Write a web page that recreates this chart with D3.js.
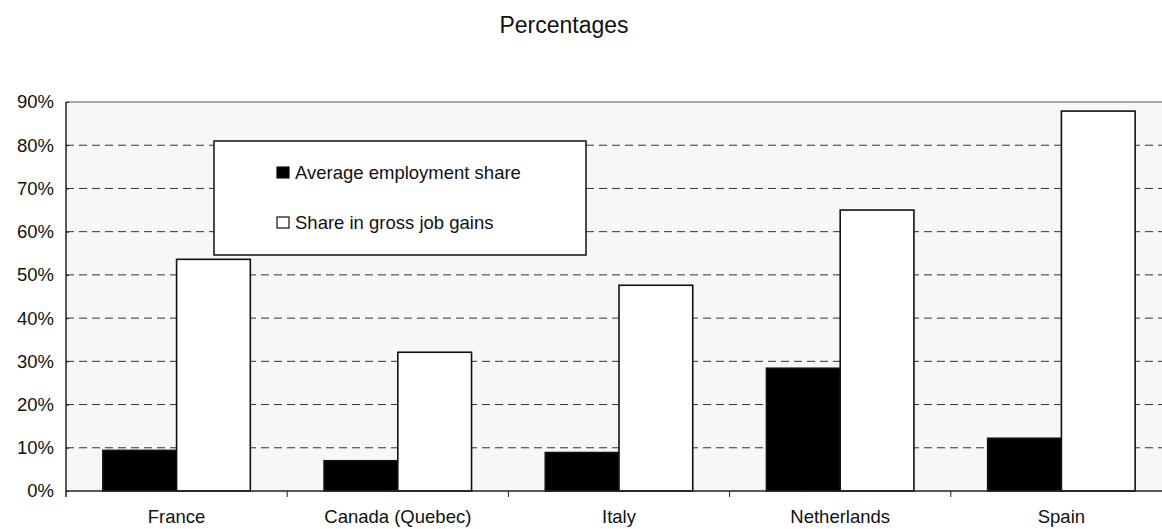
<!DOCTYPE html>
<html>
<head>
<meta charset="utf-8">
<script src="https://cdn.jsdelivr.net/npm/d3@7"></script>
<style>
  body { margin: 0; background: #fff; }
  svg { display: block; font-family: "Liberation Sans", Arial, sans-serif; }
</style>
</head>
<body>
<svg id="chart" width="1162" height="529"></svg>
<script>
const categories = ["France", "Canada (Quebec)", "Italy", "Netherlands", "Spain"];
const seriesNames = ["Average employment share", "Share in gross job gains"];
const employmentShare = [9.4, 7.0, 8.9, 28.4, 12.2];
const jobGainsShare = [53.6, 32.1, 47.6, 65.0, 87.9];
const yTicks = [0, 10, 20, 30, 40, 50, 60, 70, 80, 90];

const svg = d3.select('#chart');

const plotLeft = 66, plotRight = 1172, plotTop = 102, plotBottom = 491;
const labelSize = 18.5;

const x = d3.scaleBand()
  .domain(categories)
  .range([plotLeft, plotRight]);

const x1 = d3.scaleBand()
  .domain(seriesNames)
  .range([0, x.bandwidth()])
  .paddingOuter(0.5);

const y = d3.scaleLinear()
  .domain([0, 90])
  .range([plotBottom, plotTop]);

const fills = ['#000', '#fff'];

// title
svg.append('text')
  .attr('x', 564)
  .attr('y', 33)
  .attr('text-anchor', 'middle')
  .attr('font-size', 23)
  .attr('fill', '#111')
  .text('Percentages');

// plot background
svg.append('rect')
  .attr('x', plotLeft)
  .attr('y', plotTop)
  .attr('width', plotRight - plotLeft)
  .attr('height', plotBottom - plotTop)
  .attr('fill', '#f7f7f7');

// dashed grid
svg.append('g')
  .selectAll('line')
  .data(yTicks.filter(t => t > 0 && t < 90))
  .enter().append('line')
  .attr('x1', plotLeft)
  .attr('x2', plotRight)
  .attr('y1', d => y(d))
  .attr('y2', d => y(d))
  .attr('stroke', '#333')
  .attr('stroke-width', 1)
  .attr('stroke-dasharray', '8,5');

svg.append('line')
  .attr('x1', plotLeft).attr('x2', plotRight)
  .attr('y1', plotTop).attr('y2', plotTop)
  .attr('stroke', '#8a8a8a')
  .attr('stroke-width', 1.5);

// bars
const rows = categories.map((c, i) => ({
  cat: c,
  vals: [employmentShare[i], jobGainsShare[i]]
}));

const groups = svg.append('g')
  .selectAll('g')
  .data(rows)
  .enter().append('g')
  .attr('transform', d => `translate(${x(d.cat)},0)`);

groups.selectAll('rect')
  .data(d => d.vals.map((v, k) => ({ name: seriesNames[k], v: v, k: k })))
  .enter().append('rect')
  .attr('x', d => x1(d.name))
  .attr('y', d => y(d.v))
  .attr('width', x1.bandwidth())
  .attr('height', d => y(0) - y(d.v))
  .attr('fill', d => fills[d.k])
  .attr('stroke', '#111')
  .attr('stroke-width', 1.6);

// y axis
const yAxis = svg.append('g')
  .attr('transform', `translate(${plotLeft},0)`)
  .call(d3.axisLeft(y)
    .tickValues(yTicks)
    .tickSize(6)
    .tickPadding(6)
    .tickFormat(d => d + '%'));

yAxis.select('.domain').remove();
yAxis.selectAll('.tick line').attr('stroke', '#222').attr('x2', 3);
yAxis.selectAll('.tick text')
  .attr('font-size', labelSize)
  .attr('fill', '#111')
  .attr('font-family', '"Liberation Sans", Arial, sans-serif');

svg.append('line')
  .attr('x1', plotLeft).attr('x2', plotLeft)
  .attr('y1', plotTop).attr('y2', plotBottom + 6)
  .attr('stroke', '#222')
  .attr('stroke-width', 1.5);

// x axis
svg.append('line')
  .attr('x1', plotLeft).attr('x2', plotRight)
  .attr('y1', plotBottom).attr('y2', plotBottom)
  .attr('stroke', '#222')
  .attr('stroke-width', 1.5);

svg.append('g')
  .selectAll('line')
  .data(categories.slice(1))
  .enter().append('line')
  .attr('x1', d => x(d)).attr('x2', d => x(d))
  .attr('y1', plotBottom).attr('y2', plotBottom + 6)
  .attr('stroke', '#222');

svg.append('g')
  .selectAll('text')
  .data(categories)
  .enter().append('text')
  .attr('x', d => x(d) + x.bandwidth() / 2)
  .attr('y', 523)
  .attr('text-anchor', 'middle')
  .attr('font-size', labelSize)
  .attr('fill', '#111')
  .text(d => d);

// legend
const legend = svg.append('g');

legend.append('rect')
  .attr('x', 214)
  .attr('y', 141)
  .attr('width', 372)
  .attr('height', 114)
  .attr('fill', '#fff')
  .attr('stroke', '#111')
  .attr('stroke-width', 1.5);

const items = legend.selectAll('g')
  .data(seriesNames)
  .enter().append('g')
  .attr('transform', (d, i) => `translate(277,${167 + i * 50})`);

items.append('rect')
  .attr('width', 12)
  .attr('height', 11)
  .attr('fill', (d, i) => fills[i])
  .attr('stroke', '#111')
  .attr('stroke-width', 1.2);

items.append('text')
  .attr('x', 18)
  .attr('y', 12)
  .attr('font-size', labelSize)
  .attr('fill', '#111')
  .text(d => d);
</script>
</body>
</html>
